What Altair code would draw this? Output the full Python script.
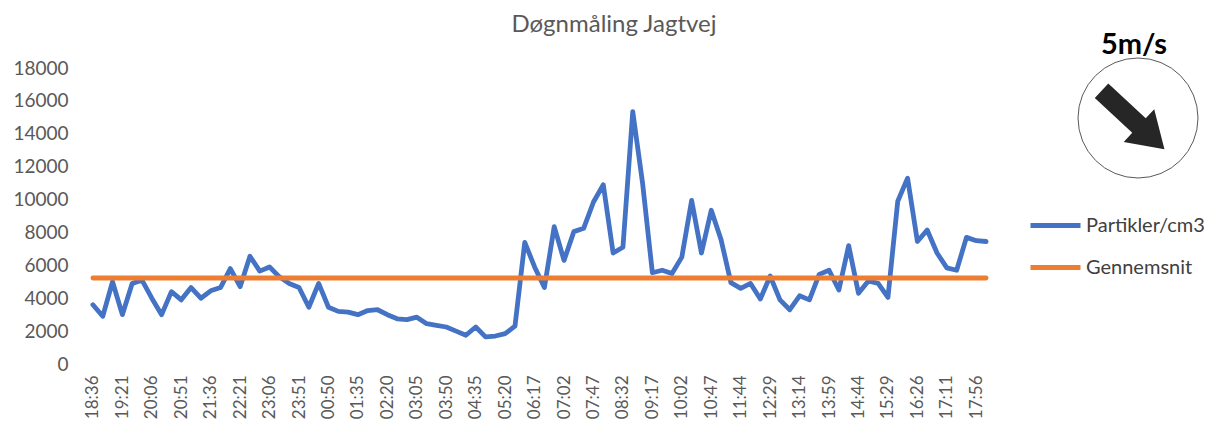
import altair as alt
import pandas as pd

# ---- data ----
time_labels = ["18:36", "19:21", "20:06", "20:51", "21:36", "22:21", "23:06", "23:51",
               "00:50", "01:35", "02:20", "03:05", "03:50", "04:35", "05:20", "06:17",
               "07:02", "07:47", "08:32", "09:17", "10:02", "10:47", "11:44", "12:29",
               "13:14", "13:59", "14:44", "15:29", "16:26", "17:11", "17:56"]

partikler = [3600, 2900, 5000, 3000, 4900, 5100, 4000, 3000, 4400, 3900,
             4650, 4000, 4450, 4650, 5800, 4700, 6550, 5650, 5900, 5300,
             4900, 4650, 3450, 4900, 3450, 3200, 3150, 3000, 3250, 3300,
             3000, 2750, 2700, 2850, 2450, 2350, 2250, 2000, 1750, 2250,
             1650, 1700, 1850, 2300, 7400, 5900, 4650, 8350, 6300, 8050,
             8250, 9850, 10900, 6750, 7100, 15350, 11000, 5550, 5700, 5500,
             6500, 9950, 6750, 9350, 7550, 4950, 4600, 4900, 3950, 5350,
             3900, 3300, 4150, 3900, 5450, 5700, 4500, 7200, 4300, 5050,
             4900, 4050, 9900, 11300, 7450, 8150, 6750, 5850, 5700, 7700,
             7500, 7450]

gennemsnit = 5230
series_names = ["Partikler/cm3", "Gennemsnit"]
series_colors = ["#4472C4", "#ED7D31"]
chart_title = "Døgnmåling Jagtvej"
wind_label = "5m/s"

FONT = "Lato"
n = len(partikler)

df_p = pd.DataFrame({"idx": list(range(n)), "value": partikler, "series": series_names[0]})
df_g = pd.DataFrame({"idx": [0, n - 1], "value": [gennemsnit, gennemsnit], "series": series_names[1]})

label_expr = "[" + ",".join("'%s'" % t for t in time_labels) + "][round(datum.value / 3)]"

x_enc = alt.X(
    "idx:Q",
    title=None,
    scale=alt.Scale(domain=[-0.5, n - 0.5], nice=False, zero=False),
    axis=alt.Axis(values=list(range(0, n, 3)), labelExpr=label_expr, labelAngle=-90,
                  labelAlign="right", labelBaseline="middle",
                  grid=False, domain=False, ticks=False, labelPadding=11,
                  labelFontSize=17, labelColor="#595959", labelFont=FONT,
                  labelOverlap=False),
)
y_enc = alt.Y(
    "value:Q",
    title=None,
    scale=alt.Scale(domain=[0, 18000], nice=False),
    axis=alt.Axis(values=list(range(0, 18001, 2000)), format="d", grid=False,
                  domain=False, ticks=False, labelPadding=20, labelFontSize=19,
                  labelColor="#595959", labelFont=FONT),
)
color_enc = alt.Color(
    "series:N",
    scale=alt.Scale(domain=series_names, range=series_colors),
    legend=alt.Legend(title=None, orient="none", legendX=940, legendY=130,
                      symbolType="stroke", symbolStrokeWidth=5, symbolSize=2500,
                      labelFontSize=20, labelFont=FONT, labelColor="#404040",
                      rowPadding=4, labelOffset=3),
)

line_p = alt.Chart(df_p).mark_line(strokeWidth=4.8, strokeJoin="round", strokeCap="round").encode(
    x=x_enc, y=y_enc, color=color_enc)
line_g = alt.Chart(df_g).mark_line(strokeWidth=4.8, strokeCap="round").encode(
    x=x_enc, y=y_enc, color=color_enc)

one = pd.DataFrame({"t": [wind_label]})
ttl = pd.DataFrame({"t": [chart_title]})
ARROW = "M -1 -0.23 L 0.19 -0.23 L 0.19 -0.52 L 1 0 L 0.19 0.52 L 0.19 0.23 L -1 0.23 Z"

circle = alt.Chart(one).mark_point(shape="circle", size=14400, filled=False,
                                   stroke="#595959", strokeWidth=1, opacity=1).encode(
    x=alt.value(1050), y=alt.value(50))
arrow = alt.Chart(one).mark_point(shape=ARROW, size=7400, filled=True, fill="#262626",
                                  strokeWidth=0, opacity=1, angle=43).encode(
    x=alt.value(1045), y=alt.value(52))
wind_text = alt.Chart(one).mark_text(fontSize=29, fontWeight="bold", font=FONT,
                                     color="#000000", align="center", baseline="middle").encode(
    x=alt.value(1046), y=alt.value(-23), text="t:N")
title_text = alt.Chart(ttl).mark_text(fontSize=24, font=FONT, color="#595959",
                                      align="center", baseline="middle").encode(
    x=alt.value(526), y=alt.value(-43), text="t:N")

chart = alt.layer(line_p, line_g, circle, arrow, wind_text, title_text).properties(
    width=903,
    height=296,
    autosize=alt.AutoSizeParams(type="none"),
    padding={"left": 80, "top": 60, "right": 222, "bottom": 58},
).configure_view(stroke=None)

chart.save("out.html", embed_options={"renderer": "svg", "actions": False})
